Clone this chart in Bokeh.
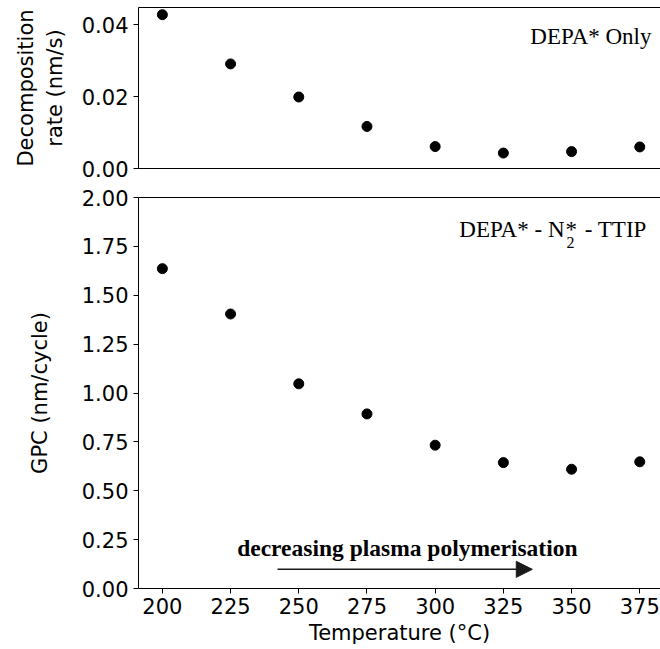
from bokeh.plotting import figure
from bokeh.layouts import column
from bokeh.models import (Range1d, FixedTicker, NumeralTickFormatter, LinearAxis,
                          Label, Arrow, NormalHead)
from bokeh.embed import file_html
from bokeh.resources import INLINE

# ---- data ----
temperature = [200, 225, 250, 275, 300, 325, 350, 375]
decomp_rate = [0.0428, 0.0291, 0.0199, 0.0117, 0.0061, 0.0043, 0.0047, 0.0060]
gpc = [1.636, 1.404, 1.047, 0.893, 0.733, 0.644, 0.610, 0.648]
x_ticks = [200, 225, 250, 275, 300, 325, 350, 375]
top_y_ticks = [0.0, 0.02, 0.04]
bot_y_ticks = [0.0, 0.25, 0.5, 0.75, 1.0, 1.25, 1.5, 1.75, 2.0]

W = 660
LEFT = 138
X0, X1 = 191.25, 382.6
TOP_Y1 = 0.0448
BOT_Y1 = 2.0

TICK_FONT = "21px"
LABEL_FONT = "21px"
SANS = "DejaVu Sans"
SERIF = "Liberation Serif"
SERIF_SIZE = "23px"
INK = "black"

x_range = Range1d(X0, X1)


def spine(location_axis):
    location_axis.ticker = FixedTicker(ticks=[])
    location_axis.major_tick_line_color = None
    location_axis.minor_tick_line_color = None
    location_axis.axis_line_color = INK
    location_axis.major_label_standoff = 0


def style(p, ylabel, yticks, standoff):
    p.outline_line_color = None
    p.grid.visible = False
    p.background_fill_color = "white"
    p.border_fill_color = "white"
    ya = p.left[0]
    ya.ticker = FixedTicker(ticks=yticks)
    ya.formatter = NumeralTickFormatter(format="0.00")
    ya.axis_label = ylabel
    ya.axis_label_text_font = SANS
    ya.axis_label_text_font_size = LABEL_FONT
    ya.axis_label_text_font_style = "normal"
    ya.axis_label_text_color = INK
    ya.axis_label_standoff = standoff
    ya.major_label_text_font = SANS
    ya.major_label_text_font_size = TICK_FONT
    ya.major_label_text_color = INK
    ya.major_label_standoff = 5
    ya.major_tick_out = 5
    ya.major_tick_in = 0
    ya.minor_tick_line_color = None
    ya.axis_line_color = INK
    ya.major_tick_line_color = INK
    top = LinearAxis()
    spine(top)
    p.add_layout(top, "above")


# ---- top panel ----
p1 = figure(width=W, height=183, x_range=x_range, y_range=Range1d(0, TOP_Y1),
            output_backend="svg", toolbar_location=None,
            min_border_left=LEFT, min_border_right=0, min_border_top=7,
            min_border_bottom=15)
style(p1, "Decomposition\nrate (nm/s)", top_y_ticks, 12)
spine(p1.below[0])
p1.scatter(temperature, decomp_rate, size=10, color="black")


def xd(px):
    return X0 + (px - LEFT) / (W - LEFT) * (X1 - X0)


p1.add_layout(Label(x=xd(651), y=(167.7 - 36) / 161 * TOP_Y1, text="DEPA* Only",
                    text_align="right", text_baseline="alphabetic",
                    text_font=SERIF, text_font_size=SERIF_SIZE, text_color=INK))

# ---- bottom panel ----
p2 = figure(width=W, height=466, x_range=x_range, y_range=Range1d(0, BOT_Y1),
            output_backend="svg", toolbar_location=None,
            min_border_left=LEFT, min_border_right=0, min_border_top=14,
            min_border_bottom=61)
style(p2, "GPC (nm/cycle)", bot_y_ticks, 27)
xa2 = p2.below[0]
xa2.ticker = FixedTicker(ticks=x_ticks)
xa2.axis_label = "Temperature (°C)"
xa2.axis_label_text_font = SANS
xa2.axis_label_text_font_size = LABEL_FONT
xa2.axis_label_text_font_style = "normal"
xa2.axis_label_text_color = INK
xa2.axis_label_standoff = 4
xa2.major_label_text_font = SANS
xa2.major_label_text_font_size = TICK_FONT
xa2.major_label_text_color = INK
xa2.major_label_standoff = 4
xa2.major_tick_out = 5
xa2.major_tick_in = 0
xa2.minor_tick_line_color = None
xa2.axis_line_color = INK
xa2.major_tick_line_color = INK
p2.scatter(temperature, gpc, size=10, color="black")


def yd2(py):
    return (587.7 - py) / 391.0 * BOT_Y1


base = yd2(229)
p2.add_layout(Label(x=xd(564), y=base, text="DEPA* - N", text_align="right",
                    text_baseline="alphabetic", text_font=SERIF, text_font_size=SERIF_SIZE,
                    text_color=INK))
p2.add_layout(Label(x=xd(565), y=base, text="*", text_align="left",
                    text_baseline="alphabetic", text_font=SERIF, text_font_size=SERIF_SIZE,
                    text_color=INK))
p2.add_layout(Label(x=xd(566), y=yd2(241.5), text="2", text_align="left",
                    text_baseline="alphabetic", text_font=SERIF, text_font_size="16px",
                    text_color=INK))
p2.add_layout(Label(x=xd(652), y=base, text=" - TTIP", text_align="right",
                    text_baseline="alphabetic", text_font=SERIF, text_font_size=SERIF_SIZE,
                    text_color=INK))

# annotation arrow
p2.add_layout(Arrow(x_start=242.2, y_start=0.098, x_end=335.6, y_end=0.098,
                    line_color="#1a1a1a", line_width=1.5,
                    end=NormalHead(size=16, fill_color="#1a1a1a", line_color="#1a1a1a")))
p2.add_layout(Label(x=289.8, y=yd2(547), text="decreasing plasma polymerisation",
                    text_align="center", text_baseline="middle", text_font=SERIF,
                    text_font_style="bold", text_font_size="23.5px", text_color=INK))

layout = column(p1, p2, spacing=0)
open("out.html", "w").write(file_html(layout, INLINE))
